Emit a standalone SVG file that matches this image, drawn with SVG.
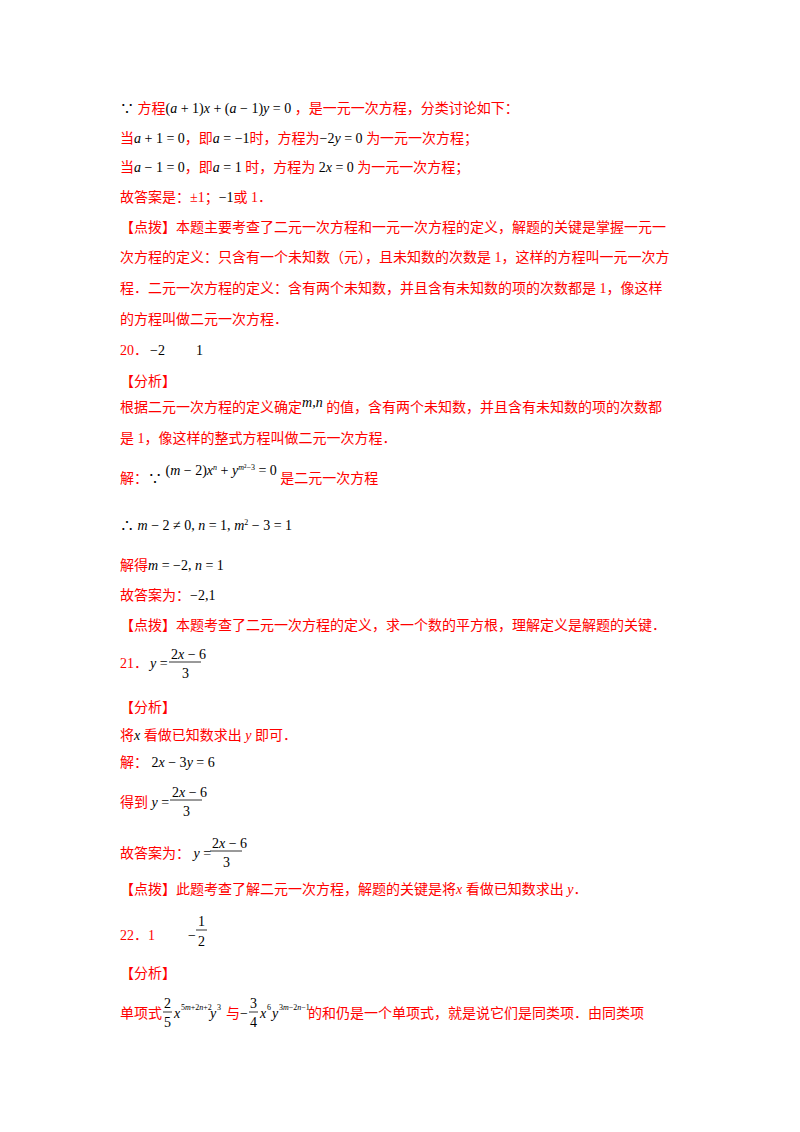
<svg xmlns="http://www.w3.org/2000/svg" width="800" height="1132" viewBox="0 0 800 1132">
<style>
text{font-family:"Liberation Serif","Noto Sans CJK SC",serif;font-size:14px;fill:#ff0000}
.k{fill:#000}
.i{font-style:italic}
.s{font-size:8px}
line{stroke:#000;stroke-width:0.8}
</style>
<rect width="800" height="1132" fill="#fff"/>
<text x="120" y="113"><tspan class="k">∵ </tspan>方程<tspan class="k">(<tspan class="i">a</tspan> + 1)<tspan class="i">x</tspan> + (<tspan class="i">a</tspan> − 1)<tspan class="i">y</tspan> = 0 </tspan>，是一元一次方程，分类讨论如下：</text>
<text x="120" y="143">当<tspan class="k"><tspan class="i">a</tspan> + 1 = 0</tspan>，即<tspan class="k"><tspan class="i">a</tspan> = −1</tspan>时，方程为<tspan class="k">−2<tspan class="i">y</tspan> = 0 </tspan>为一元一次方程；</text>
<text x="120" y="172">当<tspan class="k"><tspan class="i">a</tspan> − 1 = 0</tspan>，即<tspan class="k"><tspan class="i">a</tspan> = 1 </tspan>时，方程为<tspan class="k"> 2<tspan class="i">x</tspan> = 0 </tspan>为一元一次方程；</text>
<text x="120" y="202">故答案是：±1；<tspan class="k">−1</tspan>或 1．</text>
<text x="120" y="232">【点拨】本题主要考查了二元一次方程和一元一次方程的定义，解题的关键是掌握一元一</text>
<text x="120" y="262">次方程的定义：只含有一个未知数（元），且未知数的次数是 1，这样的方程叫一元一次方</text>
<text x="120" y="293">程．二元一次方程的定义：含有两个未知数，并且含有未知数的项的次数都是 1，像这样</text>
<text x="120" y="324">的方程叫做二元一次方程．</text>
<text x="120" y="355">20．<tspan class="k" x="150">−2</tspan><tspan class="k" x="196">1</tspan></text>
<text x="120" y="386">【分析】</text>
<text x="120" y="412">根据二元一次方程的定义确定<tspan class="k i" dy="-5">m</tspan><tspan class="k">,</tspan><tspan class="k i">n </tspan><tspan dy="5">的值，含有两个未知数，并且含有未知数的项的次数都</tspan></text>
<text x="120" y="443">是 1，像这样的整式方程叫做二元一次方程．</text>
<text x="120" y="483">解：<tspan class="k">∵ </tspan><tspan class="k" dy="-8">(<tspan class="i">m</tspan> − 2)<tspan class="i">x</tspan><tspan class="s i" dy="-5">n</tspan><tspan dy="5"> + </tspan><tspan class="i">y</tspan><tspan class="s" dy="-5"><tspan class="i">m</tspan>²−3</tspan><tspan dy="5"> = 0 </tspan></tspan><tspan dy="8">是二元一次方程</tspan></text>
<text x="120" y="530" class="k">∴ <tspan class="i">m</tspan> − 2 ≠ 0, <tspan class="i">n</tspan> = 1, <tspan class="i">m</tspan><tspan class="s" dy="-5">2</tspan><tspan dy="5"> − 3 = 1</tspan></text>
<text x="120" y="570">解得<tspan class="k"><tspan class="i">m</tspan> = −2, <tspan class="i">n</tspan> = 1</tspan></text>
<text x="120" y="600">故答案为：<tspan class="k">−2,1</tspan></text>
<text x="120" y="630">【点拨】本题考查了二元一次方程的定义，求一个数的平方根，理解定义是解题的关键．</text>
<text x="120" y="668">21．<tspan class="k i" x="150">y</tspan><tspan class="k"> =</tspan></text>
<text x="171" y="659" class="k">2<tspan class="i">x</tspan> − 6</text><line x1="169" y1="662" x2="201" y2="662"/><text x="182" y="678" class="k">3</text>
<text x="120" y="712">【分析】</text>
<text x="120" y="740">将<tspan class="k i">x</tspan> 看做已知数求出 <tspan class="i">y</tspan> 即可．</text>
<text x="120" y="767">解：<tspan class="k"> 2<tspan class="i">x</tspan> − 3<tspan class="i">y</tspan> = 6</tspan></text>
<text x="120" y="807">得到<tspan class="k i"> y</tspan><tspan class="k"> =</tspan></text>
<text x="172" y="797" class="k">2<tspan class="i">x</tspan> − 6</text><line x1="170" y1="800" x2="202" y2="800"/><text x="183" y="816" class="k">3</text>
<text x="120" y="858">故答案为：<tspan class="k i"> y</tspan><tspan class="k"> =</tspan></text>
<text x="212" y="848" class="k">2<tspan class="i">x</tspan> − 6</text><line x1="210" y1="851" x2="242" y2="851"/><text x="223" y="867" class="k">3</text>
<text x="120" y="894">【点拨】此题考查了解二元一次方程，解题的关键是将<tspan class="i">x</tspan> 看做已知数求出 <tspan class="i">y</tspan>．</text>
<text x="120" y="940">22．1</text>
<text x="188" y="940" class="k">−</text><text x="198" y="926" class="k">1</text><line x1="196" y1="930" x2="207" y2="930"/><text x="198" y="946" class="k">2</text>
<text x="120" y="978">【分析】</text>
<text x="120" y="1018">单项式</text>
<text x="164" y="1008" class="k">2</text><line x1="163" y1="1012" x2="172" y2="1012"/><text x="164" y="1027" class="k">5</text>
<text x="174" y="1018" class="k i">x</text>
<text x="181" y="1010" class="k s">5<tspan class="i">m</tspan>+2<tspan class="i">n</tspan>+2</text>
<text x="210" y="1018" class="k i">y</text><text x="217" y="1010" class="k s">3</text>
<text x="226" y="1018">与<tspan class="k">−</tspan></text>
<text x="250" y="1008" class="k">3</text><line x1="249" y1="1012" x2="258" y2="1012"/><text x="250" y="1027" class="k">4</text>
<text x="260" y="1018" class="k i">x</text><text x="267" y="1010" class="k s">6</text>
<text x="272" y="1018" class="k i">y</text><text x="279" y="1010" class="k s">3<tspan class="i">m</tspan>−2<tspan class="i">n</tspan>−1</text>
<text x="308" y="1018">的和仍是一个单项式，就是说它们是同类项．由同类项</text>
</svg>
